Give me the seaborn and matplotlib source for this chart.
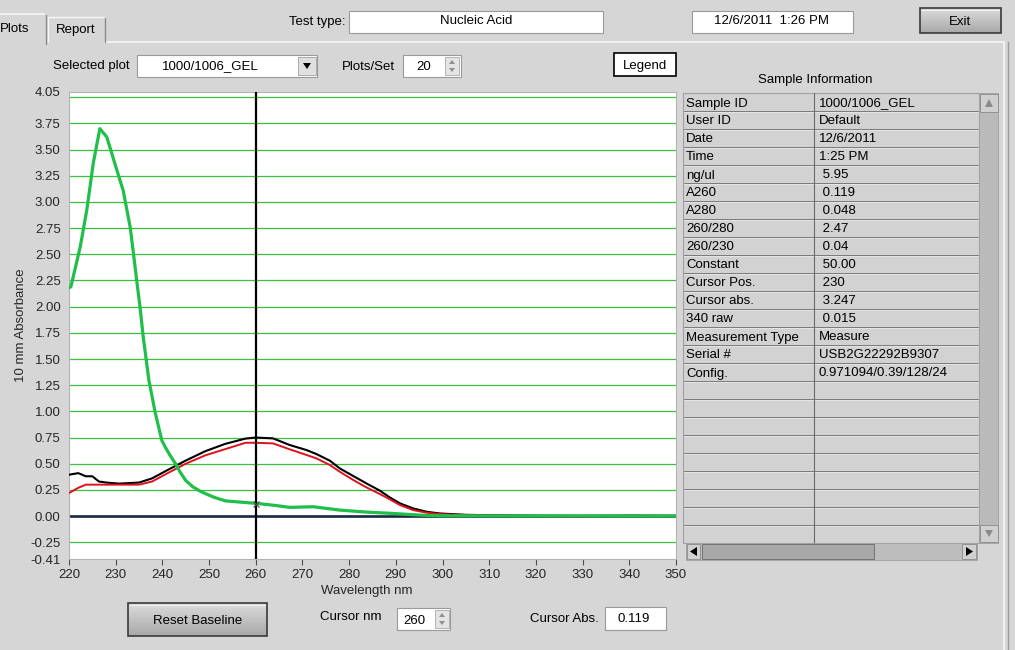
import numpy as np
import pandas as pd
import matplotlib
matplotlib.use("Agg")
import matplotlib.pyplot as plt
from matplotlib.patches import Rectangle, Polygon
import seaborn as sns

# spectra (wavelength nm, 10 mm absorbance)
wl_black = [220, 222, 223.6, 225, 226.4, 228, 230.7, 235, 237.8, 240.7, 245, 249.2, 253.5,
            257.8, 260, 263.7, 267.3, 270.9, 273.0, 275.9, 278.0, 280.9, 283.7, 286.6,
            288.7, 290.9, 293.7, 296.6, 299.4, 305, 310, 320, 330, 340, 350]
abs_black = [0.395, 0.41, 0.38, 0.38, 0.33, 0.32, 0.31, 0.32, 0.36, 0.43, 0.53, 0.62, 0.69,
             0.74, 0.75, 0.742, 0.678, 0.63, 0.592, 0.528, 0.455, 0.382, 0.312, 0.242,
             0.178, 0.121, 0.073, 0.041, 0.025, 0.012, 0.008, 0.004, 0.003, 0.005, 0.003]

wl_red = [220, 222, 223.6, 226, 230, 235, 237.8, 240.7, 245, 249.2, 253.5, 257.8, 260,
          263.7, 267.3, 270.9, 273.0, 275.9, 278.0, 280.9, 283.7, 286.6, 288.7, 290.9,
          293.7, 296.6, 299.4, 305, 310, 320, 325, 330, 340, 350]
abs_red = [0.22, 0.27, 0.30, 0.30, 0.30, 0.30, 0.33, 0.40, 0.50, 0.58, 0.64, 0.70, 0.70,
           0.694, 0.637, 0.583, 0.551, 0.487, 0.423, 0.344, 0.274, 0.21, 0.16, 0.105,
           0.057, 0.032, 0.019, 0.008, 0.005, 0.002, -0.003, -0.003, 0.002, 0.002]

wl_green = [220, 220.4, 222.4, 223.8, 225.2, 226.6, 228.1, 229.8, 230.9, 231.6, 233.1, 233.8,
            234.5, 235.2, 235.9, 237.1, 238.5, 239.9, 240.6, 241.5, 242.8, 243.8, 245,
            246.5, 248, 249.2, 251, 253.5, 256.8, 260.4, 263.7, 267.3, 272.3, 278, 283.7,
            289.4, 295.1, 299.4, 310, 350]
abs_green = [2.18, 2.19, 2.57, 2.92, 3.37, 3.70, 3.62, 3.37, 3.21, 3.11, 2.76, 2.51,
             2.25, 2.0, 1.71, 1.30, 0.98, 0.72, 0.66, 0.59, 0.50, 0.42, 0.34,
             0.28, 0.24, 0.215, 0.18, 0.145, 0.133, 0.12, 0.104, 0.083, 0.089, 0.057, 0.038,
             0.025, 0.009, 0.003, 0.002, 0.0]

cursor_nm = 260
cursor_green = 0.12
x_ticks = list(range(220, 351, 10))
y_ticks = [-0.41, -0.25, 0.0, 0.25, 0.5, 0.75, 1.0, 1.25, 1.5, 1.75, 2.0, 2.25, 2.5,
           2.75, 3.0, 3.25, 3.5, 3.75, 4.05]
grid_levels = list(np.arange(-0.25, 4.01, 0.25))

info_keys = ["Sample ID", "User ID", "Date", "Time", "ng/ul", "A260", "A280", "260/280",
             "260/230", "Constant", "Cursor Pos.", "Cursor abs.", "340 raw",
             "Measurement Type", "Serial #", "Config."]
info_vals = ["1000/1006_GEL", "Default", "12/6/2011", "1:25 PM", " 5.95", " 0.119", " 0.048",
             " 2.47", " 0.04", " 50.00", " 230", " 3.247", " 0.015", "Measure",
             "USB2G22292B9307", "0.971094/0.39/128/24"]

sns.set_theme(style="white")
plt.rcParams['font.family'] = ['Liberation Sans', 'DejaVu Sans']
FS = 9.5
BG = '#d6d6d6'

fig = plt.figure(figsize=(10.15, 6.5), dpi=100, facecolor=BG)

# ---- window chrome, drawn in pixel coordinates
ui = fig.add_axes([0, 0, 1, 1])
ui.set_xlim(0, 1015)
ui.set_ylim(650, 0)
ui.axis('off')


def box(x, y, w, h, fc='white', ec='#9a9a9a', lw=0.8, z=2):
    ui.add_patch(Rectangle((x, y), w, h, facecolor=fc, edgecolor=ec, lw=lw, zorder=z))


def txt(x, y, s, ha='left', size=FS):
    ui.text(x, y + 1.5, s, ha=ha, va='center', fontsize=size, color='black', zorder=5)


def button(x, y, w, h, label):
    grad = np.linspace(0.86, 0.66, 40).reshape(-1, 1)
    ui.imshow(grad, cmap='gray', vmin=0, vmax=1, extent=(x, x + w, y + h, y),
              aspect='auto', zorder=2)
    box(x, y, w, h, fc='none', ec='#3a3a3a', lw=1.2, z=3)
    ui.plot([x + 2, x + w - 2], [y + 2, y + 2], color='#f0f0f0', lw=0.8, zorder=3)
    txt(x + w / 2, y + h / 2, label, ha='center')


def spinner(x, y, h):
    box(x, y, 14, h, fc='#e4e4e4', ec='#a8a8a8', lw=0.6, z=3)
    cx = x + 7
    ui.add_patch(Polygon([[cx - 3, y + h / 2 - 2], [cx + 3, y + h / 2 - 2], [cx, y + 3]],
                         closed=True, fc='#909090', ec='none', zorder=4))
    ui.add_patch(Polygon([[cx - 3, y + h / 2 + 2], [cx + 3, y + h / 2 + 2], [cx, y + h - 3]],
                         closed=True, fc='#909090', ec='none', zorder=4))


# tabs and panel
ui.plot([105, 1004], [42, 42], color='#f6f6f6', lw=1.2, zorder=1)
ui.plot([1004, 1004], [42, 650], color='#f6f6f6', lw=1.2, zorder=1)
ui.plot([1008, 1008], [42, 650], color='#9a9a9a', lw=1.0, zorder=1)
ui.plot([0, 44], [14, 14], color='#f6f6f6', lw=1.2, zorder=2)
ui.plot([46, 46], [15, 44], color='#8a8a8a', lw=1.0, zorder=2)
ui.plot([48, 48, 104], [42, 17, 17], color='#f6f6f6', lw=1.0, zorder=2)
ui.plot([105, 105], [18, 42], color='#8a8a8a', lw=1.0, zorder=2)
txt(15, 28, "Plots", ha='center')
txt(76, 28, "Report", ha='center')

txt(346, 21, "Test type:", ha='right')
box(349, 11, 254, 22)
txt(476, 20, "Nucleic Acid", ha='center')
box(692, 11, 161, 22)
txt(772, 20, "12/6/2011  1:26 PM", ha='center')
button(920, 8, 81, 25, "Exit")

txt(53, 65, "Selected plot")
box(137, 55, 180, 22)
txt(210, 65, "1000/1006_GEL", ha='center')
box(298, 57, 18, 18, fc='#e0e0e0', ec='#a0a0a0', lw=0.6, z=3)
ui.add_patch(Polygon([[303, 63], [311, 63], [307, 69]], closed=True, fc='black', ec='none',
                     zorder=4))
txt(342, 65, "Plots/Set")
box(403, 55, 58, 22)
txt(424, 65, "20", ha='center')
spinner(445, 57, 18)
box(614, 53, 62, 23, fc='white', ec='black', lw=1.2)
txt(645, 64, "Legend", ha='center')

# sample information table
txt(815, 79, "Sample Information", ha='center')
row_h = 18
tab_top = 93
box(683, tab_top, 296, 450, fc='#d2d2d2', ec='#a0a0a0', lw=0.8, z=1)
for i in range(24):
    yl = tab_top + row_h * (i + 1)
    ui.plot([684, 978], [yl, yl], color='#7a7a7a', lw=0.7, zorder=2)
    ui.plot([684, 978], [yl + 1, yl + 1], color='#ececec', lw=0.5, zorder=2)
ui.plot([814, 814], [tab_top, 543], color='#6a6a6a', lw=0.8, zorder=2)
for i, (k, v) in enumerate(zip(info_keys, info_vals)):
    yc = tab_top + row_h * i + row_h / 2
    txt(686, yc, k)
    txt(819, yc, v)
# scrollbars
box(979, tab_top, 19, 450, fc='#bababa', ec='#a0a0a0', lw=0.6, z=1)
box(980, 94, 18, 18, fc='#d0d0d0', ec='#8a8a8a', lw=0.6, z=3)
ui.add_patch(Polygon([[985, 107], [993, 107], [989, 99]], closed=True, fc='#8a8a8a',
                     ec='none', zorder=4))
box(980, 525, 18, 17, fc='#d0d0d0', ec='#8a8a8a', lw=0.6, z=3)
ui.add_patch(Polygon([[985, 530], [993, 530], [989, 537]], closed=True, fc='#8a8a8a',
                     ec='none', zorder=4))
box(686, 543, 291, 17, fc='#bdbdbd', ec='#a0a0a0', lw=0.6, z=3)
box(687, 544, 13, 15, fc='#d0d0d0', ec='#8a8a8a', lw=0.6, z=4)
ui.add_patch(Polygon([[697, 547], [697, 556], [690, 551.5]], closed=True, fc='black',
                     ec='none', zorder=5))
box(702, 544, 172, 15, fc='#a8a8a8', ec='#6a6a6a', lw=0.6, z=4)
box(962, 544, 14, 15, fc='#d0d0d0', ec='#8a8a8a', lw=0.6, z=4)
ui.add_patch(Polygon([[966, 547], [966, 556], [973, 551.5]], closed=True, fc='black',
                     ec='none', zorder=5))

# bottom controls
button(128, 603, 139, 33, "Reset Baseline")
txt(320, 615, "Cursor nm")
box(397, 608, 53, 22)
txt(414, 619, "260", ha='center')
spinner(435, 610, 18)
txt(530, 617, "Cursor Abs.")
box(605, 607, 61, 23)
txt(634, 618, "0.119", ha='center')

# ---- the spectrum plot
ax = fig.add_axes([69 / 1015, (650 - 559) / 650, 607 / 1015, 467 / 650])
ax.set_facecolor('white')
for lvl in grid_levels:
    ax.axhline(lvl, color='#3cbf3c', lw=0.9, zorder=1)
ax.axhline(0, color='#1b2a44', lw=1.9, zorder=2)

sns.lineplot(x=wl_black, y=abs_black, color='black', linewidth=1.5, ax=ax, zorder=3)
sns.lineplot(x=wl_red, y=abs_red, color='#e0101c', linewidth=1.4, ax=ax, zorder=4)
sns.lineplot(x=wl_green, y=abs_green, color='#1fbf4a', linewidth=2.3, ax=ax, zorder=5)

ax.axvline(cursor_nm, color='black', lw=1.6, zorder=6)
ax.plot([cursor_nm], [cursor_green], marker='x', color='#505050', ms=4, mew=0.8, zorder=7)

ax.set_xlim(220, 350)
ax.set_ylim(-0.41, 4.05)
ax.set_xticks(x_ticks)
ax.set_xticklabels([str(t) for t in x_ticks])
ax.set_yticks(y_ticks)
ax.set_yticklabels([f"{t:.2f}" for t in y_ticks])
ax.tick_params(axis='x', length=4, width=0.8, color='#505050', pad=3, labelsize=FS,
               direction='out', bottom=True)
ax.tick_params(axis='y', length=0, pad=6, labelsize=FS)
for s in ax.spines.values():
    s.set_color('#b4b4b4')
    s.set_linewidth(0.8)
ax.set_xlabel("Wavelength nm", fontsize=FS)
ax.set_ylabel("10 mm Absorbance", fontsize=FS)
ax.xaxis.set_label_coords(0.49, -0.056)
ax.yaxis.set_label_coords(-0.069, 0.5)

fig.savefig("out.png", dpi=100, facecolor=BG)
